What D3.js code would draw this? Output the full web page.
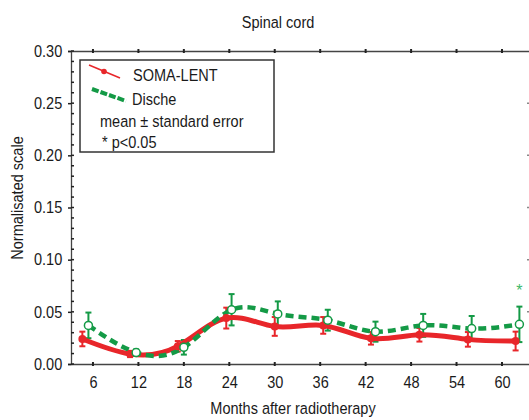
<!DOCTYPE html>
<html>
<head>
<meta charset="utf-8">
<script src="https://cdn.jsdelivr.net/npm/d3@7"></script>
<style>
  body { margin: 0; background: #fff; }
  text { font-family: "Liberation Sans", Arial, sans-serif; fill: #1a1a1a; }
</style>
</head>
<body>
<div class="chart"></div>
<script>
var svgWidth = 529;
var svgHeight = 420;

var margin = { top: 51, right: -1, bottom: 56, left: 71 };
var width = svgWidth - margin.left - margin.right;
var height = svgHeight - margin.top - margin.bottom;

// tick labels
var xTicks = [6, 12, 18, 24, 30, 36, 42, 48, 54, 60];
var yTicks = [0, 0.05, 0.10, 0.15, 0.20, 0.25, 0.30];

// SOMA-LENT (red) - months as plotted, mean, standard error
var somaMonths = [4.6, 10.9, 17.2, 23.6, 30.0, 36.4, 42.7, 49.1, 55.5, 61.8];
var somaMean = [0.024, 0.0096, 0.017, 0.044, 0.036, 0.037, 0.0246, 0.028, 0.0236, 0.022];
var somaErr = [0.007, 0.003, 0.005, 0.010, 0.009, 0.008, 0.006, 0.0065, 0.007, 0.009];

// Dische (green)
var discheMonths = [5.4, 11.7, 18.0, 24.3, 30.4, 37.0, 43.3, 49.6, 56.0, 62.3];
var discheMean = [0.037, 0.011, 0.016, 0.052, 0.048, 0.042, 0.031, 0.037, 0.034, 0.038];
var discheErr = [0.0123, 0.003, 0.007, 0.015, 0.012, 0.010, 0.0096, 0.011, 0.012, 0.017];

// significance marker
var starMonth = [62.3];
var starValue = [0.0725];

var red = "#e8262a";
var green = "#149a46";
var squeeze = "scale(0.88,1)";   // narrow look of the original condensed font

var svg = d3.select(".chart")
  .append("svg")
  .attr("width", svgWidth)
  .attr("height", svgHeight);

var chartGroup = svg.append("g")
  .attr("transform", `translate(${margin.left}, ${margin.top})`);

var xScale = d3.scaleLinear().domain([3.1, 63.7]).range([0, width]);
var yScale = d3.scaleLinear().domain([0, 0.30]).range([height, 0]);

function addText(parent, x, y, str, anchor, rotate) {
  return parent.append("text")
    .attr("transform", `translate(${x},${y})` + (rotate ? ` rotate(${rotate})` : "") + " " + squeeze)
    .attr("text-anchor", anchor || "start")
    .attr("font-size", 16.5)
    .text(str);
}

// axes
var axisColor = "#444";

var bottomAxis = d3.axisBottom(xScale).tickValues(xTicks).tickSize(0).tickPadding(12).tickFormat(d3.format("d"));
var xAxisG = chartGroup.append("g").attr("transform", `translate(0,${height})`).call(bottomAxis);
xAxisG.select(".domain").attr("stroke", axisColor).attr("stroke-width", 1.3);
xAxisG.selectAll("text").attr("font-size", 16.5).attr("transform", squeeze);
// small tick marks crossing the bottom and top lines
chartGroup.append("g").selectAll("line")
  .data(xTicks).enter().append("line")
  .attr("x1", d => xScale(d)).attr("x2", d => xScale(d))
  .attr("y1", height - 2).attr("y2", height + 2)
  .attr("stroke", "#222").attr("stroke-width", 2);

var topAxis = d3.axisTop(xScale).tickValues(xTicks).tickSize(0).tickFormat("");
var topG = chartGroup.append("g").call(topAxis);
topG.select(".domain").attr("stroke", axisColor).attr("stroke-width", 1.3);
chartGroup.append("g").selectAll("line")
  .data(xTicks).enter().append("line")
  .attr("x1", d => xScale(d)).attr("x2", d => xScale(d))
  .attr("y1", -2).attr("y2", 2)
  .attr("stroke", "#222").attr("stroke-width", 2);

var leftAxis = d3.axisLeft(yScale).tickValues(yTicks).tickSize(3).tickPadding(7).tickFormat(d3.format(".2f"));
var yAxisG = chartGroup.append("g").call(leftAxis);
yAxisG.select(".domain").attr("stroke", axisColor).attr("stroke-width", 1.3);
yAxisG.selectAll(".tick line").attr("stroke", "#222").attr("stroke-width", 1.5);
yAxisG.selectAll("text").attr("font-size", 16.5).attr("transform", squeeze);

// minor ticks every 0.01 pointing inward
chartGroup.append("g").selectAll("line")
  .data(d3.range(0, 0.301, 0.01)).enter().append("line")
  .attr("x1", 0).attr("x2", 3)
  .attr("y1", d => yScale(d)).attr("y2", d => yScale(d))
  .attr("stroke", "#222").attr("stroke-width", 1.5);

// faint right-side ticks
chartGroup.append("g").selectAll("line")
  .data(yTicks.slice(1, 6)).enter().append("line")
  .attr("x1", width - 3).attr("x2", width - 1)
  .attr("y1", d => yScale(d)).attr("y2", d => yScale(d))
  .attr("stroke", "#888").attr("stroke-width", 1.5);

// titles
addText(svg, 278, 28, "Spinal cord", "middle");
addText(svg, 293, 414, "Months after radiotherapy", "middle");
addText(svg, 23, 198, "Normalisated scale", "middle", -90);

// series
function seriesData(months, mean, err) {
  return months.map((m, i) => ({ m: m, v: mean[i], e: err[i] }));
}
var soma = seriesData(somaMonths, somaMean, somaErr);
var dische = seriesData(discheMonths, discheMean, discheErr);

var line = d3.line()
  .x(d => xScale(d.m))
  .y(d => yScale(d.v))
  .curve(d3.curveNatural);

function drawErrors(data, color) {
  var g = chartGroup.append("g").attr("stroke", color).attr("stroke-width", 2);
  g.selectAll("line.v").data(data).enter().append("line")
    .attr("class", "v")
    .attr("x1", d => xScale(d.m)).attr("x2", d => xScale(d.m))
    .attr("y1", d => yScale(d.v - d.e)).attr("y2", d => yScale(d.v + d.e));
  [1, -1].forEach(s => {
    g.selectAll("line.c" + (s > 0 ? "p" : "n")).data(data).enter().append("line")
      .attr("class", "c" + (s > 0 ? "p" : "n"))
      .attr("x1", d => xScale(d.m) - 3).attr("x2", d => xScale(d.m) + 3)
      .attr("y1", d => yScale(d.v + s * d.e)).attr("y2", d => yScale(d.v + s * d.e));
  });
}

drawErrors(soma, red);
drawErrors(dische, green);

chartGroup.append("path")
  .datum(soma)
  .attr("d", line)
  .attr("fill", "none")
  .attr("stroke", red)
  .attr("stroke-width", 5);

chartGroup.append("path")
  .datum(dische)
  .attr("d", line)
  .attr("fill", "none")
  .attr("stroke", green)
  .attr("stroke-width", 4.5)
  .attr("stroke-dasharray", "8,5");

chartGroup.selectAll("circle.soma")
  .data(soma).enter().append("circle")
  .attr("class", "soma")
  .attr("cx", d => xScale(d.m)).attr("cy", d => yScale(d.v))
  .attr("r", 4).attr("fill", red);

chartGroup.selectAll("circle.dische")
  .data(dische).enter().append("circle")
  .attr("class", "dische")
  .attr("cx", d => xScale(d.m)).attr("cy", d => yScale(d.v))
  .attr("r", 4).attr("fill", "#fff").attr("stroke", green).attr("stroke-width", 1.5);

chartGroup.selectAll("text.star")
  .data(starMonth).enter().append("text")
  .attr("class", "star")
  .attr("x", (d) => xScale(d)).attr("y", (d, i) => yScale(starValue[i]) + 8)
  .attr("text-anchor", "middle").attr("font-size", 16)
  .style("fill", "#3cb96a")
  .text("*");

// legend
var legend = svg.append("g");
legend.append("rect")
  .attr("x", 80).attr("y", 60).attr("width", 194).attr("height", 92)
  .attr("fill", "#fff").attr("stroke", "#333").attr("stroke-width", 1.5);
legend.append("line")
  .attr("x1", 89).attr("y1", 65).attr("x2", 120).attr("y2", 78)
  .attr("stroke", red).attr("stroke-width", 1.5);
legend.append("circle").attr("cx", 104).attr("cy", 71.5).attr("r", 2.8).attr("fill", red);
legend.append("line")
  .attr("x1", 92).attr("y1", 89).attr("x2", 126).attr("y2", 101)
  .attr("stroke", green).attr("stroke-width", 4).attr("stroke-dasharray", "7,2");
addText(legend, 133, 81, "SOMA-LENT");
addText(legend, 132, 105, "Dische");
addText(legend, 100, 127, "mean \u00b1 standard error");
addText(legend, 102, 148, "* p<0.05");
</script>
</body>
</html>
